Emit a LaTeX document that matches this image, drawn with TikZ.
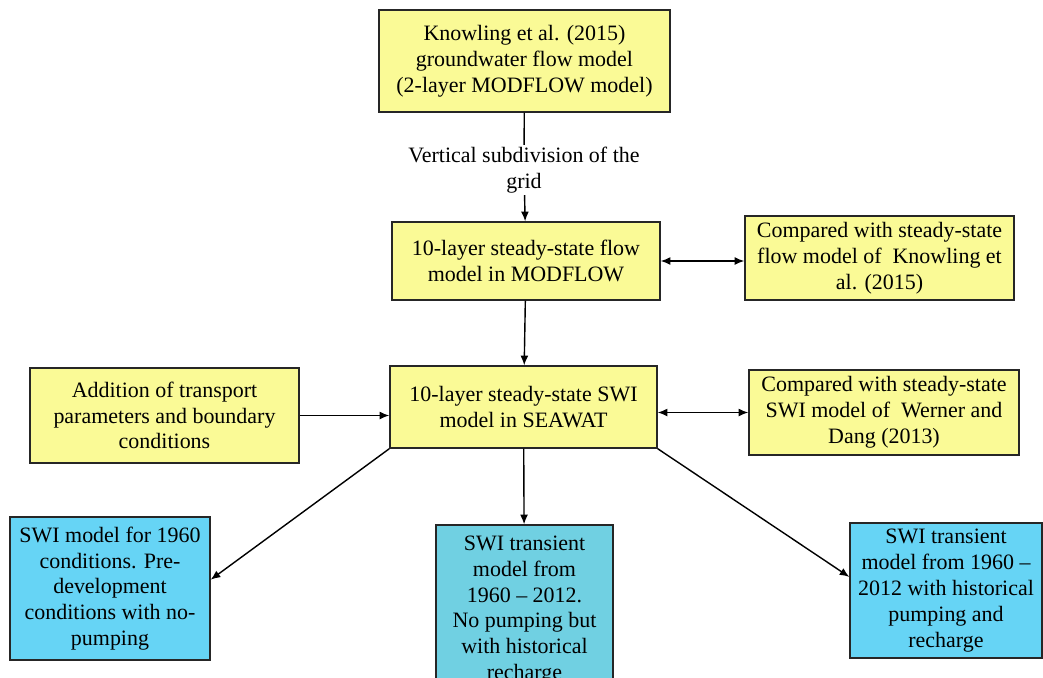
\documentclass[tikz,border=0pt]{standalone}
\usepackage{fontspec}
\setmainfont{Liberation Serif}
\usetikzlibrary{arrows.meta}

\definecolor{boxyellow}{RGB}{250,250,150}
\definecolor{boxblue}{RGB}{102,212,245}
\definecolor{boxteal}{RGB}{112,208,226}

\begin{document}
\begin{tikzpicture}
  [x=0.02cm,y=-0.02cm,
   every node/.style={font=\fontsize{12.5}{14.7}\selectfont,align=center},
   modelbox/.style={draw=black!85,line width=0.8pt,inner sep=2pt},
   yellowbox/.style={modelbox,fill=boxyellow},
   bluebox/.style={modelbox,fill=boxblue},
   link/.style={line width=0.8pt,-{Latex[length=5.5pt,width=4.5pt]}},
   twoway/.style={line width=0.8pt,{Latex[length=5.5pt,width=4.5pt]}-{Latex[length=5.5pt,width=4.5pt]}}]
\useasboundingbox (0,0) rectangle (1043,677);
\clip (0,0) rectangle (1043,677);
\fill [white] (0,0) rectangle (1043,677);

% yellow boxes
\node [yellowbox,minimum width=5.82cm,minimum height=2.04cm] (knowling) at (524.5,61)
  {Knowling et al. (2015)\\groundwater flow model\\(2-layer MODFLOW model)};
\node [yellowbox,minimum width=5.36cm,minimum height=1.56cm] (flow) at (526,261)
  {10-layer steady-state flow\\model in MODFLOW};
\node [yellowbox,minimum width=5.38cm,minimum height=1.68cm] (cmpflow) at (879.5,258)
  {Compared with steady-state\\flow model of~ Knowling et\\al. (2015)};
\node [yellowbox,minimum width=5.34cm,minimum height=1.64cm] (swi) at (523.5,407)
  {10-layer steady-state SWI\\model in SEAWAT};
\node [yellowbox,minimum width=5.38cm,minimum height=1.90cm] (transport) at (164.5,415.5)
  {Addition of transport\\parameters and boundary\\conditions};
\node [yellowbox,minimum width=5.40cm,minimum height=1.70cm] (cmpswi) at (884,412.5)
  {Compared with steady-state\\SWI model of~ Werner and\\Dang (2013)};

% blue boxes
\node [bluebox,minimum width=4.00cm,minimum height=2.86cm] (pre) at (110,588.5)
  {SWI model for 1960\\conditions. Pre-\\development\\conditions with no-\\pumping};
\node [bluebox,fill=boxteal,minimum width=3.54cm,minimum height=3.40cm] (nopump) at (524.5,610)
  {SWI transient\\model from\\1960 -- 2012.\\No pumping but\\with historical\\recharge};
\node [bluebox,minimum width=3.84cm,minimum height=2.70cm] (hist) at (946,590.5)
  {SWI transient\\model from 1960 --\\2012 with historical\\pumping and\\recharge};

\node [inner sep=1pt] (subdiv) at (524,170) {Vertical subdivision of the\\grid};

\draw [line width=0.8pt] (knowling) -- (subdiv);
\draw [link] (subdiv) -- (flow);
\draw [twoway] (flow.east) -- (flow.east -| cmpflow.west);
\draw [link] (flow) -- (swi);
\draw [link] (transport.east) -- (transport.east -| swi.west);
\draw [twoway] (cmpswi.west -| swi.east) -- (cmpswi.west);
\draw [link] (swi.south west) -- (pre.5);
\draw [link] (swi) -- (nopump);
\draw [link] (swi.south east) -- (hist.172);
\end{tikzpicture}
\end{document}
